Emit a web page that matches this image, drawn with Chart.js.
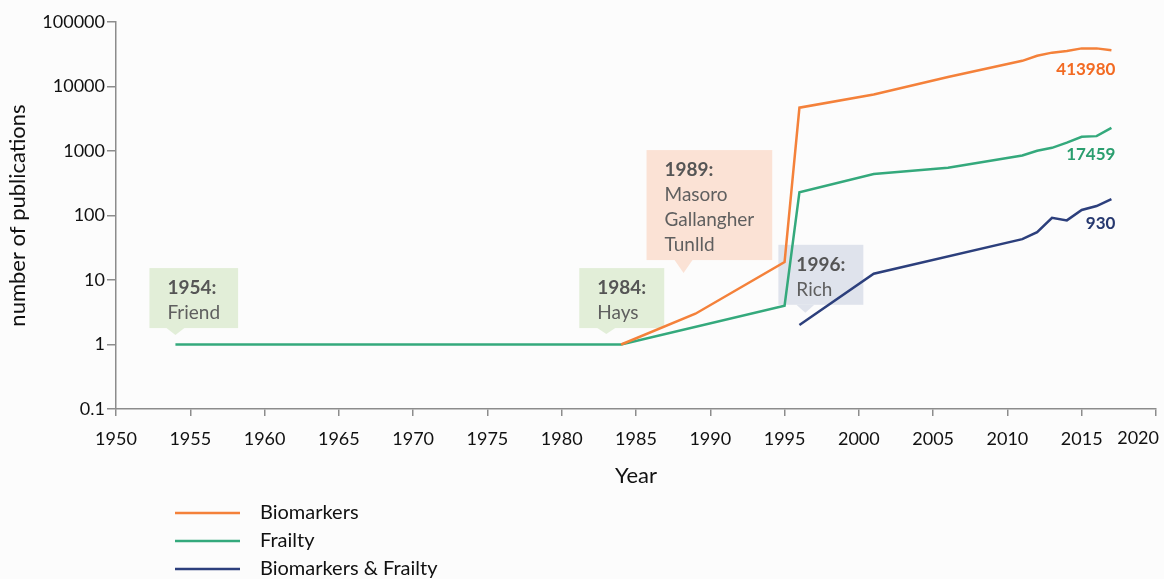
<!DOCTYPE html>
<html>
<head>
<meta charset="utf-8">
<script src="https://cdn.jsdelivr.net/npm/chart.js@4.4.1/dist/chart.umd.min.js"></script>
<style>
    html, body { margin: 0; padding: 0; background: #fcfcfc; }
    #wrap { width: 1164px; height: 579px; position: relative; }
</style>
</head>
<body>
<div id="wrap"><canvas id="myChart"></canvas></div>
<script>
// values (log scale)
const biomarkerYears = [1984, 1989, 1995, 1996, 2001, 2006, 2011, 2012, 2013, 2014, 2015, 2016, 2017];
const biomarkers     = [1, 3, 19, 4700, 7500, 14000, 25000, 30000, 33500, 35500, 39000, 39000, 36400];

const frailtyYears = [1954, 1984, 1995, 1996, 2001, 2006, 2011, 2012, 2013, 2014, 2015, 2016, 2017];
const frailty      = [1, 1, 4, 230, 440, 550, 850, 1010, 1120, 1350, 1660, 1700, 2280];

const bothYears = [1996, 2001, 2011, 2012, 2013, 2014, 2015, 2016, 2017];
const both      = [2, 12.5, 43, 55, 92, 84, 122, 140, 180];

const seriesLabels = ['Biomarkers', 'Frailty', 'Biomarkers & Frailty'];
const seriesColors = ['#f4813a', '#34a97c', '#2c3f7c'];
const totals = ['413980', '17459', '930'];
const totalColors = ['#f26a22', '#2a9e6e', '#26386f'];
const totalGaps = [19, 27, 24];

const yTickValues = [0.1, 1, 10, 100, 1000, 10000, 100000];
const yTickLabels = ['0.1', '1', '10', '100', '1000', '10000', '100000'];

// callouts: pointer year / value, text
const callouts = [
    { year: 1954, value: 1.4, title: '1954:', names: ['Friend'], fill: '#e2eed8', dx: -26, ph: 7 },
    { year: 1983, value: 1.45, title: '1984:', names: ['Hays'], fill: '#e2eed8', dx: -27, ph: 6 },
    { year: 1988.2, value: 12.8, title: '1989:', names: ['Masoro', 'Gallangher', 'Tunlld'], fill: '#fbe2d5', dx: -37, ph: 13 },
    { year: 1996.4, value: 3.1, title: '1996:', names: ['Rich'], fill: '#dfe3ec', dx: -27, ph: 8 },
];

function toPoints(xs, ys) {
    return xs.map((x, i) => ({ x: x, y: ys[i] }));
}

const calloutPlugin = {
    id: 'callouts',
    beforeDatasetsDraw(chart) {
        const ctx = chart.ctx;
        const xs = chart.scales.x, ys = chart.scales.y;
        callouts.forEach(c => {
            const tipX = xs.getPixelForValue(c.year);
            const tipY = ys.getPixelForValue(c.value);
            ctx.save();
            ctx.font = 'bold 19px Lato';
            let w = ctx.measureText(c.title).width;
            ctx.font = '19px Lato';
            c.names.forEach(n => { w = Math.max(w, ctx.measureText(n).width); });
            const boxW = w + 36;
            const boxH = 35 + 25 * c.names.length;
            const left = tipX + c.dx;
            const bottom = tipY - c.ph;
            const top = bottom - boxH;
            ctx.fillStyle = c.fill;
            ctx.fillRect(left, top, boxW, boxH);
            ctx.beginPath();
            ctx.moveTo(tipX - 9, bottom);
            ctx.lineTo(tipX, tipY);
            ctx.lineTo(tipX + 9, bottom);
            ctx.closePath();
            ctx.fill();
            ctx.textBaseline = 'middle';
            ctx.fillStyle = '#555555';
            ctx.font = 'bold 19px Lato';
            ctx.fillText(c.title, left + 18, top + 20);
            ctx.fillStyle = '#5f5f5f';
            ctx.font = '19px Lato';
            c.names.forEach((n, i) => ctx.fillText(n, left + 18, top + 20 + 25 * (i + 1)));
            ctx.restore();
        });
    }
};

const totalsPlugin = {
    id: 'totals',
    afterDatasetsDraw(chart) {
        const ctx = chart.ctx;
        ctx.save();
        ctx.font = 'bold 17px Lato';
        ctx.textAlign = 'right';
        ctx.textBaseline = 'middle';
        chart.data.datasets.forEach((ds, i) => {
            const pts = chart.getDatasetMeta(i).data;
            const last = pts[pts.length - 1];
            ctx.fillStyle = totalColors[i];
            ctx.fillText(totals[i], last.x + 4, last.y + totalGaps[i]);
        });
        ctx.restore();
    }
};

// last x label sits inside the canvas, right aligned to its tick
const lastTickPlugin = {
    id: 'lastTick',
    afterDraw(chart) {
        const xs = chart.scales.x;
        const ctx = chart.ctx;
        ctx.save();
        ctx.font = '18px Lato';
        ctx.fillStyle = '#111111';
        ctx.textAlign = 'right';
        ctx.textBaseline = 'middle';
        ctx.fillText(String(xs.max), xs.getPixelForValue(xs.max) + 3, chart.chartArea.bottom + 29);
        ctx.restore();
    }
};

const legendPlugin = {
    id: 'sideLegend',
    afterDraw(chart) {
        const ctx = chart.ctx;
        ctx.save();
        ctx.font = '20px Lato';
        ctx.textBaseline = 'middle';
        chart.data.datasets.forEach((ds, i) => {
            const y = 513 + i * 28;
            ctx.strokeStyle = ds.borderColor;
            ctx.lineWidth = 2.5;
            ctx.beginPath();
            ctx.moveTo(175, y);
            ctx.lineTo(240, y);
            ctx.stroke();
            ctx.fillStyle = '#111111';
            ctx.fillText(ds.label, 260, y);
        });
        ctx.restore();
    }
};

function createChart() {
    const ctx = document.getElementById('myChart').getContext('2d');
    const data = [
        toPoints(biomarkerYears, biomarkers),
        toPoints(frailtyYears, frailty),
        toPoints(bothYears, both),
    ];
    new Chart(ctx, {
        type: 'line',
        data: {
            datasets: data.map((d, i) => ({
                label: seriesLabels[i],
                data: d,
                borderColor: seriesColors[i],
                backgroundColor: seriesColors[i],
                borderWidth: 2.5,
                pointRadius: 0,
                tension: 0,
                fill: false,
            })),
        },
        options: {
            responsive: true,
            maintainAspectRatio: false,
            animation: false,
            layout: { padding: { left: 0, top: 22, right: 8, bottom: 90 } },
            plugins: {
                legend: { display: false },
                tooltip: { enabled: false },
            },
            scales: {
                x: {
                    type: 'linear',
                    min: 1950,
                    max: 2020,
                    grid: { drawOnChartArea: false, tickLength: 7, color: '#8c8c8c', lineWidth: 1.5 },
                    border: { color: '#8c8c8c', width: 1.5 },
                    ticks: {
                        stepSize: 5,
                        padding: 12,
                        color: '#111111',
                        font: { family: 'Lato', size: 18 },
                        callback: v => (v === 2020 ? '' : String(v)),
                    },
                    title: {
                        display: true,
                        text: 'Year',
                        color: '#111111',
                        font: { family: 'Lato', size: 22 },
                        padding: { top: 0, bottom: 0 },
                    },
                    afterFit(scale) {
                        scale.height = 80;
                        scale.paddingLeft = 0;
                        scale.paddingRight = 0;
                    },
                },
                y: {
                    type: 'logarithmic',
                    min: 0.1,
                    max: 100000,
                    grid: { drawOnChartArea: false, tickLength: 9, color: '#8c8c8c', lineWidth: 1.5 },
                    border: { color: '#8c8c8c', width: 1.5 },
                    afterBuildTicks(scale) {
                        scale.ticks = yTickValues.map(v => ({ value: v, major: true }));
                    },
                    ticks: {
                        padding: 2,
                        color: '#111111',
                        font: { family: 'Lato', size: 18 },
                        callback: (v) => yTickLabels[yTickValues.indexOf(v)] ?? '',
                    },
                    title: {
                        display: true,
                        text: 'number of publications',
                        color: '#111111',
                        font: { family: 'Lato', size: 22 },
                        padding: { top: 5, bottom: 0 },
                    },
                    afterFit(scale) {
                        scale.width = 116;
                        scale.paddingTop = 0;
                        scale.paddingBottom = 0;
                    },
                },
            },
        },
        plugins: [calloutPlugin, totalsPlugin, lastTickPlugin, legendPlugin],
    });
}

createChart();
</script>
</body>
</html>
